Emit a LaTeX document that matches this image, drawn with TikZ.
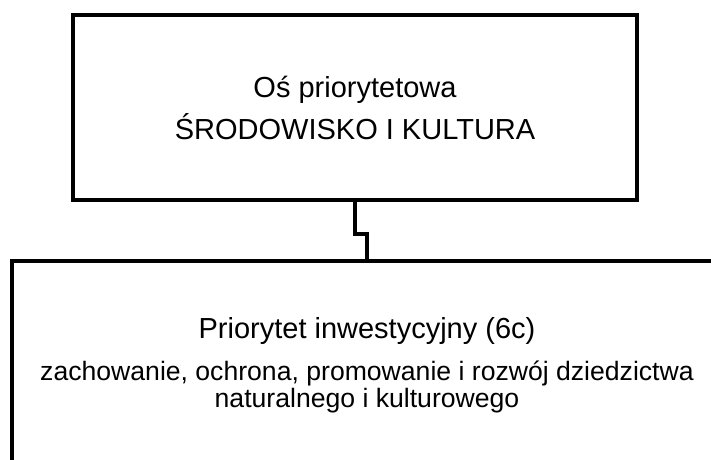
\documentclass[tikz,border=0pt]{standalone}
\usepackage{fontspec}
\setmainfont{Liberation Sans}
\newcommand{\duzy}{\fontsize{29}{33}\selectfont}
\newcommand{\maly}{\fontsize{26.6}{26}\selectfont}
\tikzset{
  blok/.style={draw=black, line width=4pt, align=center, inner sep=0pt},
}
\begin{document}
\begin{tikzpicture}[x=1pt,y=-1pt]
  \useasboundingbox (0,0) rectangle (711,459);
  \clip (0,0) rectangle (711,459);
  \node [blok, font=\duzy, minimum width=564pt, minimum height=185pt] (os) at (355,107.5)
    {Oś priorytetowa\\[9pt] ŚRODOWISKO I KULTURA};
  \node [blok, font=\duzy, minimum width=710pt, minimum height=208pt] (priorytet) at (367,365)
    {Priorytet inwestycyjny (6c)\\[9pt]
     \maly zachowanie, ochrona, promowanie i rozwój dziedzictwa\\[-6pt]
     \maly naturalnego i kulturowego};
  \draw [line width=4pt] (os.south) -- ++(0,32) -| (priorytet.north);
\end{tikzpicture}
\end{document}
